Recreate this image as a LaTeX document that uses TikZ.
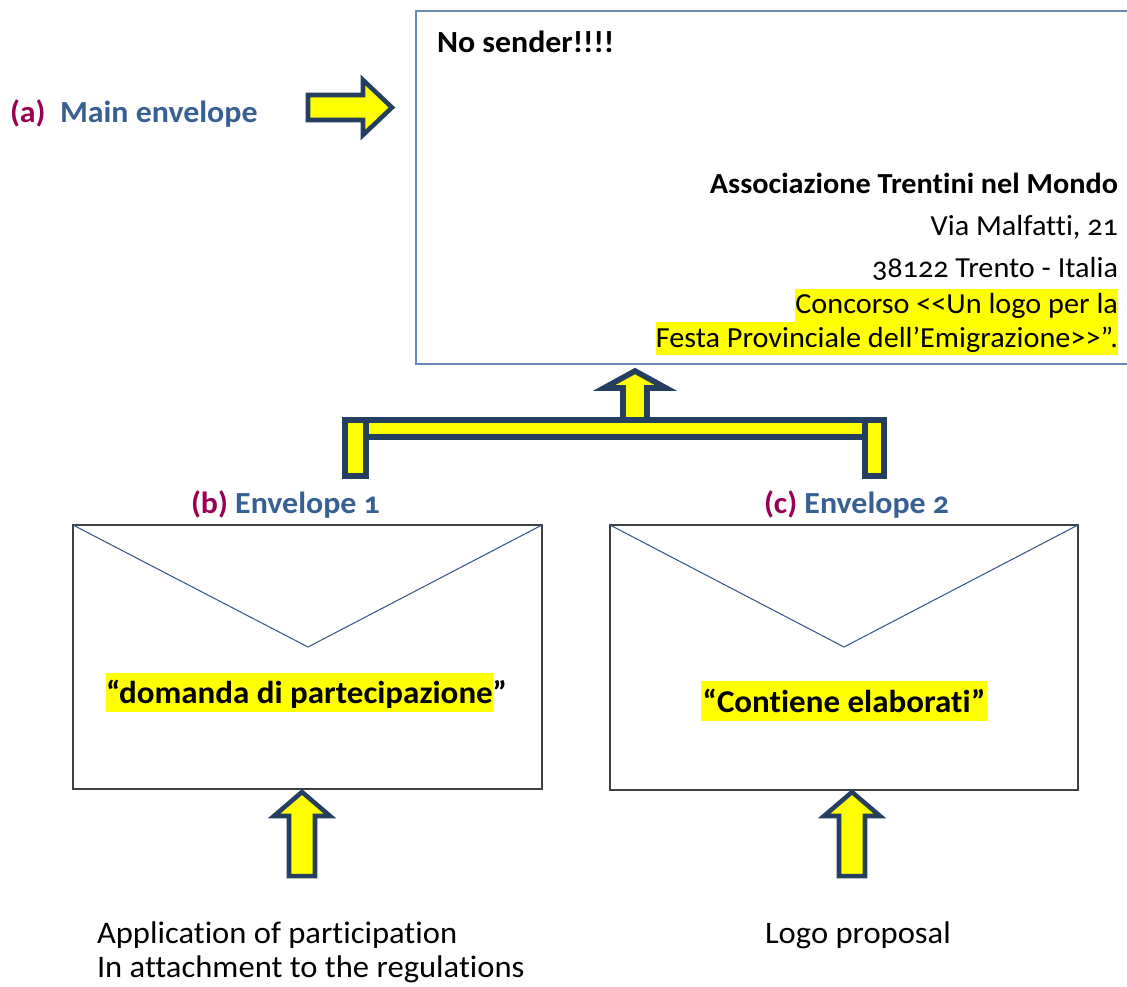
\documentclass[tikz,border=0pt]{standalone}
\usepackage{fontspec}
\setmainfont{Carlito}[FakeStretch=1.04, Numbers=OldStyle, Ligatures=NoCommon]
\definecolor{navy}{HTML}{243F60}
\definecolor{hlyellow}{HTML}{FFFF00}
\definecolor{maroon}{HTML}{990052}
\definecolor{headblue}{HTML}{376092}
\definecolor{mainborder}{HTML}{6A89B5}
\definecolor{envborder}{HTML}{404040}
\definecolor{flapline}{HTML}{3B5A8A}
\newcommand\fsHead{\fontsize{23pt}{27pt}\selectfont}
\newcommand\fsInner{\fontsize{23.8pt}{28pt}\selectfont}
\newcommand\fsBottom{\fontsize{23.5pt}{28pt}\selectfont}
\newcommand\fsAddr{\fontsize{21.8pt}{25pt}\selectfont}
\tikzset{
  txt/.style={inner sep=0pt, outer sep=0pt},
  blockarrow/.style={draw=navy, fill=hlyellow, line width=3.4pt, line join=miter},
  envbox/.style={draw=envborder, line width=1.5pt, fill=white},
  flap/.style={draw=flapline, line width=0.8pt},
  hl/.style={fill=hlyellow, inner ysep=0pt, inner xsep=0pt, outer sep=0pt},
}
\begin{document}
\begin{tikzpicture}[x=0.75pt,y=-0.75pt]
\useasboundingbox (0,0) rectangle (1127,986);

% main envelope
\draw[mainborder, line width=1.6pt] (1135,11) -- (416,11) -- (416,364) -- (1135,364);
\node[txt, anchor=base west, font=\fsHead\bfseries] (nosender) at (437,52) {No sender!!!!};
\node[txt, anchor=base east, font=\fsAddr\bfseries] (addr1) at (1118,193) {Associazione Trentini nel Mondo};
\node[txt, anchor=base east, font=\fsAddr] (addr2) at (1118,235) {Via Malfatti, 21};
\node[txt, anchor=base east, font=\fsAddr] (addr3) at (1118,277) {38122 Trento - Italia};
\node[hl, anchor=base east, font=\fsAddr, text height=18pt, text depth=6.75pt] (addr4) at (1118,313) {Concorso <{}<Un logo per la};
\node[hl, anchor=base east, font=\fsAddr, text height=18.75pt, text depth=6pt] (addr5) at (1118,347) {Festa Provinciale dell’Emigrazione>{}>”.};

% label (a)
\node[txt, anchor=base west, font=\fsHead\bfseries, text=maroon] (alabel) at (10,122) {(a)};
\node[txt, anchor=base west, font=\fsHead\bfseries, text=headblue] (atitle) at (60,122) {Main envelope};
\draw[blockarrow] (308,95) -- (363,95) -- (363,80) -- (392,107.5) -- (363,135) -- (363,120) -- (308,120) -- cycle;

% bracket with up arrow
\draw[blockarrow, line width=4.2pt] (623,420) -- (623,388) -- (604,388) -- (635,371) -- (666,388) -- (647,388) -- (647,420) -- cycle;
\draw[blockarrow, line width=4.2pt] (345,420) rectangle (884,437);
\draw[blockarrow, line width=4.2pt] (345,420) rectangle (366,476);
\draw[blockarrow, line width=4.2pt] (865,420) rectangle (884,476);

% envelope 1
\node[txt, anchor=base west, font=\fsHead\bfseries] (blabel) at (191,513) {\textcolor{maroon}{(b)} \textcolor{headblue}{Envelope 1}};
\draw[envbox] (73,525) rectangle (542,789);
\draw[flap] (73,525) -- (308,647) -- (542,525);
\node[hl, anchor=base west, font=\fsInner\bfseries, text height=22.5pt, text depth=6.75pt] (dom) at (106,703) {“domanda di partecipazione};
\node[txt, anchor=base west, font=\fsInner\bfseries] (domq) at (dom.base east) {”};

% envelope 2
\node[txt, anchor=base west, font=\fsHead\bfseries] (clabel) at (764,513) {\textcolor{maroon}{(c)} \textcolor{headblue}{Envelope 2}};
\draw[envbox] (610,525) rectangle (1078,790);
\draw[flap] (610,525) -- (844,647) -- (1078,525);
\node[hl, anchor=base, font=\fsInner\bfseries, text height=23.25pt, text depth=6.75pt, inner xsep=1.5pt] (cont) at (844,712) {“Contiene elaborati”};

% up arrows under envelopes
\draw[blockarrow] (289,876) -- (289,816) -- (274,816) -- (302,792) -- (330,816) -- (315,816) -- (315,876) -- cycle;
\draw[blockarrow] (839,876) -- (839,816) -- (824,816) -- (852,792) -- (880,816) -- (865,816) -- (865,876) -- cycle;

% bottom texts
\node[txt, anchor=base west, font=\fsBottom] (app1) at (97,943) {Application of participation};
\node[txt, anchor=base west, font=\fsBottom] (app2) at (97,977) {In attachment to the regulations};
\node[txt, anchor=base west, font=\fsBottom] (logo) at (765,943) {Logo proposal};
\end{tikzpicture}
\end{document}
